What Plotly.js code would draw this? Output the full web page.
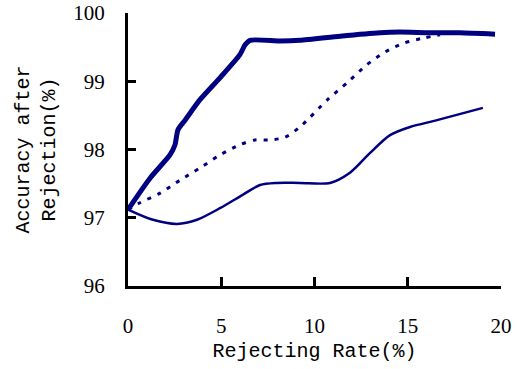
<!DOCTYPE html>
<html>
<head>
<meta charset="utf-8">
<script src="https://cdn.plot.ly/plotly-3.0.1.min.js"></script>
<style>html,body{margin:0;padding:0;background:#fff;}#chart{width:521px;height:369px;}</style>
</head>
<body>
<div id="chart"></div>
<script>
// Thick solid series
var thickX = [0, 1.18, 2.25, 2.52, 2.68, 3.06, 3.86, 4.93, 6.0, 6.27, 6.54, 8.15, 9.22, 11.37, 13.51, 14.58, 16.19, 17.8, 19.68];
var thickY = [97.12, 97.58, 97.92, 98.07, 98.29, 98.43, 98.73, 99.05, 99.39, 99.53, 99.60, 99.59, 99.60, 99.66, 99.71, 99.72, 99.71, 99.71, 99.69];
// Dotted series
var dotX = [0, 0.64, 1.72, 2.79, 3.86, 4.93, 6.0, 6.81, 7.61, 8.42, 9.22, 10.7, 11.8, 12.8, 13.8, 14.8, 15.8, 16.73];
var dotY = [97.12, 97.22, 97.36, 97.55, 97.73, 97.92, 98.07, 98.14, 98.14, 98.18, 98.33, 98.73, 98.99, 99.24, 99.43, 99.56, 99.63, 99.68];
// Thin solid series
var thinX = [0, 1.34, 2.63, 3.70, 4.93, 6.17, 7.08, 7.99, 9.22, 10.83, 11.90, 12.98, 14.05, 15.12, 16.57, 19.03];
var thinY = [97.12, 96.97, 96.91, 96.97, 97.14, 97.34, 97.48, 97.51, 97.51, 97.51, 97.66, 97.95, 98.21, 98.33, 98.43, 98.61];

var xTicks = [0, 5, 10, 15, 20];
var yTicks = [96, 97, 98, 99, 100];

var navy = '#000080';
var traces = [
  {x: thinX, y: thinY, mode: 'lines', line: {color: navy, width: 2.5, shape: 'spline', smoothing: 0.8}, hoverinfo: 'skip'},
  {x: dotX, y: dotY, mode: 'lines', line: {color: navy, width: 3, dash: '4px,7px', shape: 'spline', smoothing: 0.8}, hoverinfo: 'skip'},
  {x: thickX, y: thickY, mode: 'lines', line: {color: navy, width: 5, shape: 'spline', smoothing: 0.6}, hoverinfo: 'skip'}
];

var tickFont = {family: "'Liberation Serif', serif", size: 21, color: '#000'};
var titleFont = {family: "'Liberation Mono', monospace", size: 20, color: '#000'};

var layout = {
  width: 521, height: 369,
  margin: {l: 128, r: 20, t: 13, b: 83},
  paper_bgcolor: '#fff', plot_bgcolor: '#fff',
  showlegend: false,
  xaxis: {
    range: [0, 20], tickvals: xTicks, ticktext: xTicks.map(String),
    ticks: 'inside', ticklen: 9, tickwidth: 3, tickcolor: '#000',
    showline: true, linewidth: 3, linecolor: '#000', showgrid: false, zeroline: false,
    tickfont: tickFont, ticklabelstandoff: 19,
    title: {text: 'Rejecting Rate(%)', font: titleFont, standoff: 6}
  },
  yaxis: {
    range: [96, 100], tickvals: yTicks, ticktext: yTicks.map(String),
    ticks: 'inside', ticklen: 8, tickwidth: 3, tickcolor: '#000',
    showline: true, linewidth: 3, linecolor: '#000', showgrid: false, zeroline: false,
    tickfont: tickFont, ticklabelstandoff: 16,
    title: {text: 'Accuracy after<br>Rejection(%)', font: titleFont, standoff: 13}
  }
};

Plotly.newPlot('chart', traces, layout, {staticPlot: true, displayModeBar: false});
</script>
</body>
</html>
